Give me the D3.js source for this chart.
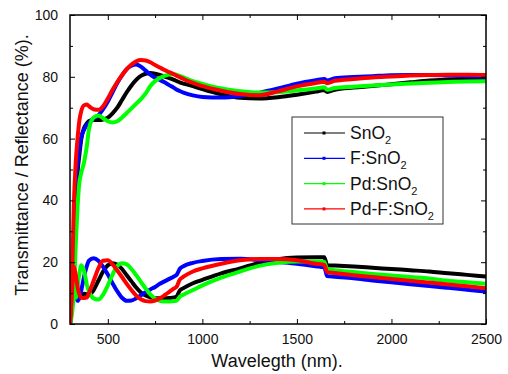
<!DOCTYPE html>
<html><head><meta charset="utf-8">
<script src="https://cdn.jsdelivr.net/npm/d3@7"></script>
<style>body{margin:0;background:#fff;} svg{display:block;font-family:"Liberation Sans",Arial,sans-serif;}</style>
</head><body>
<svg id="c" width="508" height="374"></svg>
<script>
const wavelengths = [300,310,320,330,340,350,360,375,390,400,425,450,475,500,525,550,575,600,625,650,675,700,725,750,775,800,825,850,865,880,900,950,1000,1100,1200,1300,1400,1500,1600,1645,1660,1700,1800,1900,2000,2100,2200,2300,2400,2500];

const seriesNames = ["SnO2","F:SnO2","Pd:SnO2","Pd-F:SnO2"];
const seriesColors = ["#000000","#0000ff","#00ff00","#ff0000"];

// Transmittance
const T_SnO2   = [0,6,22,38,49,55,60,63.5,65,65.7,66,66,66.2,66.8,68.2,70,72.5,75,77.2,79,80.3,81,81.2,81,80.6,80.1,79.6,79,78.6,78.2,77.8,77,76,74.3,73.2,73,73.4,74.2,75.2,75.7,75.1,75.8,76.5,77,77.6,78.2,78.8,79.1,79.3,79.3];
const T_FSnO2  = [0,8,28,44,52,57,60.5,63,64.5,65,66.5,67.5,69.5,72,75,78,80.5,82.5,83.6,84,83.3,82,80.7,79.7,79,78.2,77.3,76.4,75.8,75.4,74.9,74,73.5,73.3,73.8,74.8,76.2,77.8,78.9,79.3,78.8,79.5,79.9,80.2,80.5,80.6,80.6,80.4,80.2,80];
const T_PdSnO2 = [0,3,10,25,38,46,49,52.5,58,63,66.8,67.5,66.6,65.6,65.2,65.6,66.8,68.3,69.8,71.3,72.8,74.6,77,78.6,79.6,80.3,80.7,80.8,80.6,80.3,79.8,78.6,77.7,76.2,75.3,74.9,75,75.6,76.2,76.6,75.8,76.4,76.8,77.2,77.5,77.8,78.1,78.3,78.5,78.6];
const T_PdFSnO2= [0,12,38,52,60,66,69,70.8,71,70.5,69.5,69.3,70.5,73,75.8,78.3,80.5,82.5,84,85,85.4,85.3,84.7,83.8,83,82.2,81.5,80.8,80.3,79.9,79.3,78,77,75.5,74.4,74,75.3,76.9,78,78.4,77.9,78.7,79.3,79.8,80.1,80.4,80.6,80.7,80.7,80.6];

// Reflectance
const R_SnO2   = [2,10,16,14.5,11,9.5,9.5,9.8,9.6,9.5,11,14,17,19,19.7,19.2,17.8,15.8,13.8,11.8,10.2,9.2,8.6,8.3,8.3,8.3,8.4,8.6,9,10.8,11.6,13.2,14.3,16.4,18,19.8,21,21.5,21.6,21.6,19,18.9,18.6,18.2,17.8,17.4,17,16.4,15.9,15.4];
const R_FSnO2  = [3,12,16,11,7.5,8.5,11,15.5,19,20.5,21.3,20.5,18.5,16,13.2,10.6,8.5,7.5,7.6,8.3,9.3,10.3,11.2,12,13,13.8,14.6,15.4,16,17.8,18.7,19.8,20.4,21,21.1,20.7,20.1,19.5,18.7,18.3,15.5,15.3,14.8,14.1,13.5,12.9,12.3,11.7,11.1,10.5];
const R_PdSnO2 = [8,12,10,8.5,12,16.5,19,17,12.5,10.5,8.3,7.9,9.5,12.5,16,18.8,19.7,19.3,17.8,15.8,13.6,11.5,9.6,8.2,7.5,7.3,7.3,7.4,7.6,8.8,9.5,11,12.5,15,17,18.8,19.8,20.2,20.2,20.1,17.8,17.4,16.8,16.2,15.7,15.2,14.7,14,13.5,13];
const R_PdFSnO2= [0,10,18.5,16,12,9.5,8.5,8.4,8.6,10,14,18,20.5,20.6,19.3,17.3,15.2,13,11,9.2,8,7.4,7.3,7.6,8.3,9.3,10.4,11.5,12.2,14.3,15.3,17,18,19.5,20.6,21,21,20.6,19.5,19.1,16.8,16.5,15.8,15.2,14.6,14,13.4,12.8,12.2,11.6];

const xTicks = [500,1000,1500,2000,2500];
const xMinorTicks = [750,1250,1750,2250];
const yTicks = [0,20,40,60,80,100];
const yMinorTicks = [10,30,50,70,90];

const Tdata = [T_SnO2,T_FSnO2,T_PdSnO2,T_PdFSnO2];
const Rdata = [R_SnO2,R_FSnO2,R_PdSnO2,R_PdFSnO2];

const svg = d3.select("#c");
const L=70, R=486, Tp=15, B=324;
const x = d3.scaleLinear().domain([300,2500]).range([L,R]);
const y = d3.scaleLinear().domain([0,100]).range([B,Tp]);

const plot = svg.append("g");
svg.append("clipPath").attr("id","clp").append("rect").attr("x",L).attr("y",Tp).attr("width",R-L).attr("height",B-Tp);
const curves = plot.append("g").attr("clip-path","url(#clp)");
const line = d3.line().x((d,i)=>x(wavelengths[i])).y(d=>y(d)).curve(d3.curveMonotoneX);

[0,1,2,3].forEach(k=>{
  [Tdata[k],Rdata[k]].forEach(arr=>{
    curves.append("path").attr("d",line(arr)).attr("fill","none")
      .attr("stroke",seriesColors[k]).attr("stroke-width",4).attr("stroke-linejoin","round").attr("stroke-linecap","round");
  });
});

// frame
svg.append("rect").attr("x",L).attr("y",Tp).attr("width",R-L).attr("height",B-Tp)
  .attr("fill","none").attr("stroke","#000").attr("stroke-width",1.5);

// axes with inward ticks
const ax = g=>g.selectAll(".domain").remove();
svg.append("g").attr("transform",`translate(0,${B})`)
  .call(d3.axisBottom(x).tickValues(xTicks).tickSize(-5).tickPadding(10).tickFormat(d3.format("d"))).call(ax);
svg.append("g").attr("transform",`translate(0,${B})`)
  .call(d3.axisBottom(x).tickValues(xMinorTicks).tickSize(-3).tickFormat("")).call(ax);
svg.append("g").attr("transform",`translate(0,${Tp})`)
  .call(d3.axisTop(x).tickValues(xTicks).tickSize(-5).tickFormat("")).call(ax);
svg.append("g").attr("transform",`translate(0,${Tp})`)
  .call(d3.axisTop(x).tickValues(xMinorTicks).tickSize(-3).tickFormat("")).call(ax);
svg.append("g").attr("transform",`translate(${L},0)`)
  .call(d3.axisLeft(y).tickValues(yTicks).tickSize(-5).tickPadding(12)).call(ax);
svg.append("g").attr("transform",`translate(${L},0)`)
  .call(d3.axisLeft(y).tickValues(yMinorTicks).tickSize(-3).tickFormat("")).call(ax);
svg.append("g").attr("transform",`translate(${R},0)`)
  .call(d3.axisRight(y).tickValues(yTicks).tickSize(-5).tickFormat("")).call(ax);
svg.append("g").attr("transform",`translate(${R},0)`)
  .call(d3.axisRight(y).tickValues(yMinorTicks).tickSize(-3).tickFormat("")).call(ax);
svg.selectAll(".tick line").attr("stroke","#000").attr("stroke-width",1);
svg.selectAll(".tick text").attr("font-size",14).attr("fill","#111").attr("font-family","Liberation Sans, Arial, sans-serif");

// titles
svg.append("text").attr("x",277).attr("y",367).attr("text-anchor","middle")
  .attr("font-size",18).attr("fill","#111").text("Wavelegth (nm).");
svg.append("text").attr("transform","translate(28,165) rotate(-90)").attr("text-anchor","middle")
  .attr("font-size",18).attr("fill","#111").text("Transmittance / Reflectance (%).");

// legend
const lg = svg.append("g");
lg.append("rect").attr("x",292).attr("y",117).attr("width",151).attr("height",107)
  .attr("fill","#fff").attr("stroke","#333").attr("stroke-width",1);
const legendLabels = [["SnO","2"],["F:SnO","2"],["Pd:SnO","2"],["Pd-F:SnO","2"]];
seriesNames.forEach((n,i)=>{
  const yy = 133 + i*25.3;
  lg.append("line").attr("x1",304).attr("x2",345).attr("y1",yy).attr("y2",yy)
    .attr("stroke",seriesColors[i]).attr("stroke-width",1.2);
  lg.append("rect").attr("x",322.5).attr("y",yy-1.5).attr("width",3).attr("height",3).attr("fill",seriesColors[i]);
  const t = lg.append("text").attr("x",350).attr("y",yy+6).attr("font-size",17.5).attr("fill","#111");
  t.append("tspan").text(legendLabels[i][0]);
  t.append("tspan").attr("dy",5).attr("font-size",11).text(legendLabels[i][1]);
});
</script>
</body></html>
